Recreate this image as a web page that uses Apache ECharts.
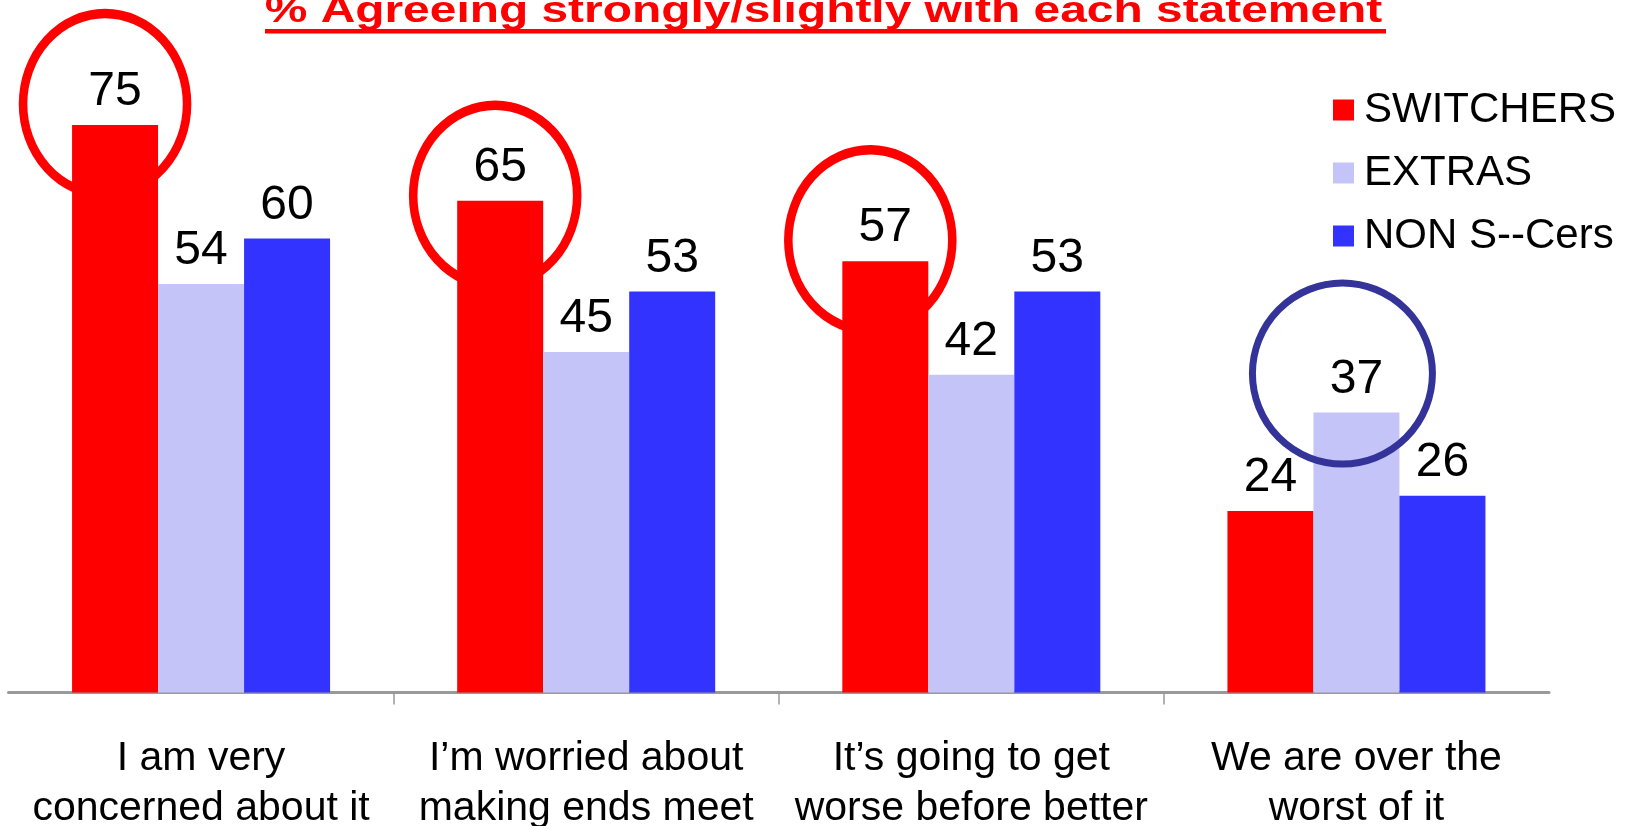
<!DOCTYPE html>
<html>
<head>
<meta charset="utf-8">
<script src="https://cdn.jsdelivr.net/npm/echarts@6/dist/echarts.min.js"></script>
<style>
  html, body { margin: 0; padding: 0; background: #fff; }
  #chart { width: 1628px; height: 826px; }
</style>
</head>
<body>
<div id="chart"></div>
<script>
// ---- data ----
const titleText = '% Agreeing strongly/slightly with each statement';
const categories = [
  'I am very\nconcerned about it',
  'I\u2019m worried about\nmaking ends meet',
  'It\u2019s going to get\nworse before better',
  'We are over the\nworst of it'
];
const seriesNames = ['SWITCHERS', 'EXTRAS', 'NON S--Cers'];
const switchers = [75, 65, 57, 24];
const extras = [54, 45, 42, 37];
const nonSCers = [60, 53, 53, 26];
// circled (highlighted) bars: category indices per series
const circledSwitchers = [0, 1, 2];
const circledExtras = [3];
// category boundaries (for separator ticks): one per edge
const boundaries = ['', '', '', '', ''];

// ---- styling ----
const FONT = 'Liberation Sans, Arial, sans-serif';
const RED = '#ff0000';
const LAV = '#c4c4f9';
const BLUE = '#3333ff';
const NAVY = '#333399';
const ELLIPSE = 'path://M0,-1A1,1,0,1,1,0,1A1,1,0,1,1,0,-1Z';

// circle offsets (px) relative to bar top centre, per highlighted bar
const redOffsets = [[-10, -21], [-5, -5], [-15, -21]];
const navyOffsets = [[-14, -39]];

const chart = echarts.init(document.getElementById('chart'), null, { renderer: 'canvas' });

const labelStyle = {
  show: true,
  position: 'top',
  distance: 9,
  color: '#000',
  fontFamily: FONT,
  fontSize: 48
};

function bar(name, data, color, markData) {
  const s = {
    name: name,
    type: 'bar',
    data: data,
    xAxisIndex: 0,
    barWidth: 86,
    barGap: '0%',
    itemStyle: { color: color },
    label: labelStyle
  };
  if (markData) s.markPoint = markData;
  return s;
}

const option = {
  animation: false,
  backgroundColor: '#ffffff',
  grid: {
    left: 8.5, right: 79, top: 11.5, bottom: 133.5,
    containLabel: false,
    outerBoundsMode: 'none'
  },
  legend: {
    orient: 'vertical',
    left: 1328,
    top: 84,
    itemWidth: 21,
    itemHeight: 21,
    itemGap: 21,
    icon: 'rect',
    textStyle: { fontFamily: FONT, fontSize: 42, color: '#000', padding: [0, 0, 0, 5] },
    data: seriesNames
  },
  xAxis: [
    {
      type: 'category',
      data: categories,
      boundaryGap: true,
      axisLine: { show: true, lineStyle: { color: '#999999', width: 3 } },
      axisTick: { show: false },
      axisLabel: {
        margin: 41,
        color: '#000',
        fontFamily: FONT,
        fontSize: 41,
        lineHeight: 50,
        interval: 0
      }
    },
    {
      type: 'category',
      data: boundaries,
      boundaryGap: false,
      position: 'bottom',
      axisLine: { show: false },
      axisLabel: { show: false },
      axisTick: {
        show: true,
        length: 12,
        interval: function (idx) { return idx > 0 && idx < boundaries.length - 1; },
        lineStyle: { color: '#999999', width: 1.5 }
      },
      splitLine: { show: false }
    }
  ],
  yAxis: {
    type: 'value',
    min: 0,
    max: 90,
    show: false,
    splitLine: { show: false }
  },
  graphic: [
    {
      type: 'text',
      x: 823.5,
      y: 12,
      scaleX: 1.33,
      style: {
        text: titleText,
        fill: RED,
        font: 'bold 36px ' + FONT,
        align: 'center',
        verticalAlign: 'middle'
      }
    },
    {
      type: 'rect',
      shape: { x: 265, y: 29, width: 1121, height: 4.5 },
      style: { fill: RED }
    }
  ],
  series: [
    bar(seriesNames[0], switchers, RED, {
      symbol: ELLIPSE,
      symbolSize: [164, 181],
      label: { show: false },
      itemStyle: { color: 'transparent', borderColor: RED, borderWidth: 9 },
      data: circledSwitchers.map((i, k) => ({
        coord: [i, switchers[i]],
        symbolOffset: redOffsets[k]
      }))
    }),
    bar(seriesNames[1], extras, LAV, {
      symbol: ELLIPSE,
      symbolSize: [180, 181],
      label: { show: false },
      itemStyle: { color: 'transparent', borderColor: NAVY, borderWidth: 7 },
      data: circledExtras.map((i, k) => ({
        coord: [i, extras[i]],
        symbolOffset: navyOffsets[k]
      }))
    }),
    bar(seriesNames[2], nonSCers, BLUE)
  ]
};

chart.setOption(option);
</script>
</body>
</html>
